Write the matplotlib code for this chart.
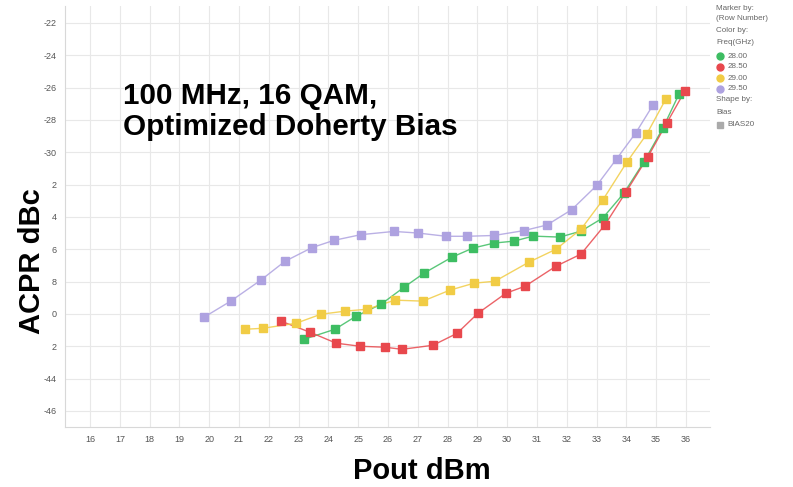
import matplotlib.pyplot as plt
from matplotlib.lines import Line2D

# data (Pout dBm, ACPR dBc)
x_2800 = [23.18, 24.22, 24.93, 25.77, 26.54, 27.21, 28.15, 28.85, 29.56, 30.23,
          30.87, 31.77, 32.48, 33.21, 33.92, 34.59, 35.23, 35.77]
y_2800 = [-41.57, -40.95, -40.14, -39.4, -38.35, -37.48, -36.49, -35.93, -35.62, -35.5,
          -35.19, -35.25, -34.88, -34.07, -32.53, -30.6, -28.5, -26.4]

x_2850 = [22.41, 23.38, 24.26, 25.06, 25.9, 26.47, 27.51, 28.32, 29.02, 29.96,
          30.6, 31.64, 32.48, 33.28, 33.99, 34.72, 35.36, 35.97]
y_2850 = [-40.45, -41.13, -41.81, -42.0, -42.06, -42.19, -41.94, -41.2, -39.96, -38.72,
          -38.29, -37.05, -36.3, -34.5, -32.46, -30.3, -28.19, -26.2]

x_2900 = [21.2, 21.8, 22.91, 23.75, 24.56, 25.3, 26.23, 27.17, 28.08, 28.89,
          29.59, 30.73, 31.64, 32.48, 33.21, 34.02, 34.69, 35.33]
y_2900 = [-40.95, -40.89, -40.58, -40.02, -39.83, -39.71, -39.15, -39.21, -38.53, -38.1,
          -37.98, -36.8, -36.0, -34.76, -32.96, -30.61, -28.87, -26.7]

x_2950 = [19.83, 20.73, 21.74, 22.54, 23.45, 24.19, 25.09, 26.2, 27.01, 27.95,
          28.65, 29.56, 30.56, 31.34, 32.17, 33.01, 33.68, 34.32, 34.89]
y_2950 = [-40.2, -39.2, -37.9, -36.75, -35.9, -35.45, -35.1, -34.9, -35.0, -35.2,
          -35.2, -35.15, -34.85, -34.5, -33.55, -32.05, -30.4, -28.8, -27.1]

freqs = ['28.00', '28.50', '29.00', '29.50']
colors = ['#3dbd62', '#e8484d', '#f1cc45', '#aea2e0']
series = [(x_2800, y_2800), (x_2850, y_2850), (x_2900, y_2900), (x_2950, y_2950)]

x_ticks = list(range(16, 37))
y_ticks = [-22, -24, -26, -28, -30, -32, -34, -36, -38, -40, -42, -44, -46]
y_tick_labels = ['-22', '-24', '-26', '-28', '-30', '2', '4', '6', '8', '0', '2', '-44', '-46']

plt.rcParams['font.family'] = ['Liberation Sans', 'DejaVu Sans']

fig = plt.figure(figsize=(7.93, 4.87), dpi=100)
ax = fig.add_axes([0.082, 0.123, 0.813, 0.865])

for (xs, ys), c in zip(series, colors):
    ax.plot(xs, ys, color=c, lw=1.0, alpha=0.85, zorder=2)
    ax.plot(xs, ys, ls='none', marker='s', ms=6, color=c, mec=c, zorder=3)

ax.set_xlim(15.16, 36.8)
ax.set_ylim(-47.0, -20.95)
ax.set_xticks(x_ticks)
ax.set_yticks(y_ticks)
ax.set_yticklabels(y_tick_labels)
ax.tick_params(length=0, labelsize=6.5, labelcolor='#555555', pad=6)
ax.grid(color='#e8e8e8', lw=0.8)
ax.set_axisbelow(True)
for s in ['top', 'right']:
    ax.spines[s].set_visible(False)
for s in ['left', 'bottom']:
    ax.spines[s].set_color('#d8d8d8')
    ax.spines[s].set_linewidth(0.8)

fig.text(0.040, 0.463, 'ACPR dBc', rotation=90, ha='center', va='center',
         fontsize=21, fontweight='bold', color='black')
fig.text(0.532, 0.032, 'Pout dBm', ha='center', va='center',
         fontsize=21, fontweight='bold', color='black')
fig.text(0.155, 0.831, '100 MHz, 16 QAM,\nOptimized Doherty Bias', ha='left', va='top',
         fontsize=21.3, fontweight='bold', color='black', linespacing=1.12)

# legend panel on the right
lx = 0.903
lt = '#666666'
rows = [('Marker by:', 8), ('(Row Number)', 19), ('Color by:', 31), ('Freq(GHz)', 43)]
for t, py in rows:
    fig.text(lx, 1 - py / 487, t, fontsize=5.8, color=lt, va='center')
for i, (f, c) in enumerate(zip(freqs, colors)):
    py = 1 - (56 + i * 11) / 487
    fig.add_artist(Line2D([lx + 0.005], [py], marker='o', ms=5, color=c, ls='none',
                          transform=fig.transFigure))
    fig.text(lx + 0.014, py, f, fontsize=5.8, color=lt, va='center')
for t, py in [('Shape by:', 100), ('Bias', 113)]:
    fig.text(lx, 1 - py / 487, t, fontsize=5.8, color=lt, va='center')
fig.add_artist(Line2D([lx + 0.005], [1 - 125 / 487], marker='s', ms=5, color='#aaaaaa',
                      ls='none', transform=fig.transFigure))
fig.text(lx + 0.014, 1 - 125 / 487, 'BIAS20', fontsize=5.8, color=lt, va='center')

fig.savefig('out.png', dpi=100)
